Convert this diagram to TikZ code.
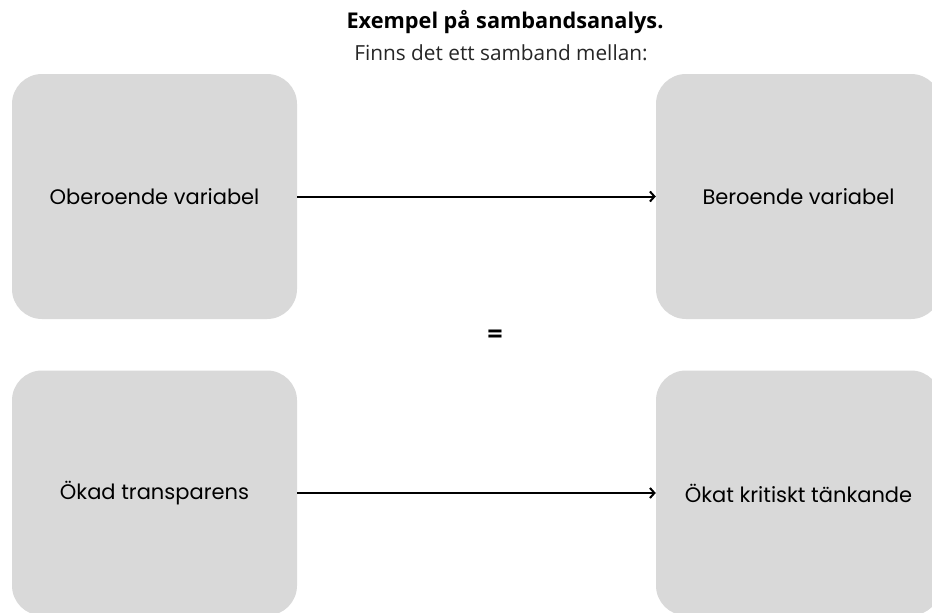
\documentclass[tikz,border=0pt]{standalone}
\usepackage{fontspec}
\setmainfont{Open Sans}
\newfontfamily\boxfont{Poppins}
\usetikzlibrary{arrows.meta}
\definecolor{boxgray}{HTML}{D9D9D9}
\tikzset{
  varbox/.style={fill=boxgray, draw=none, rounded corners=30pt, minimum width=285pt, minimum height=245pt, inner sep=0pt, font=\boxfont\fontsize{21}{24}\selectfont, text=black},
  relarrow/.style={line width=2pt, -{Straight Barb[length=4.5pt,width=10pt,line width=2pt]}}
}
\begin{document}
\begin{tikzpicture}[x=1pt,y=-1pt]
\useasboundingbox (0,0) rectangle (932,613);
\clip (0,0) rectangle (932,613);
\fill[white] (0,0) rectangle (932,613);
\node[font=\bfseries\fontsize{21.7}{24}\selectfont] (title) at (505,22) {Exempel på sambandsanalys.};
\node[font=\fontsize{20.8}{24}\selectfont, text=black!85] (sub) at (501,53) {Finns det ett samband mellan:};
\node[varbox] (tl) at (154.5,196.5) {Oberoende variabel};
\node[varbox] (tr) at (798.5,196.5) {Beroende variabel};
\node[varbox] (bl) at (154.5,493) {Ökad transparens};
\node[varbox] (br) at (798.5,493) {Ökat kritiskt tänkande};
\node[font=\bfseries\fontsize{27}{30}\selectfont] (eq) at (495,337) {=};
\draw[relarrow] (tl.east) -- (tr.west);
\draw[relarrow] (bl.east) -- (br.west);
\end{tikzpicture}
\end{document}
